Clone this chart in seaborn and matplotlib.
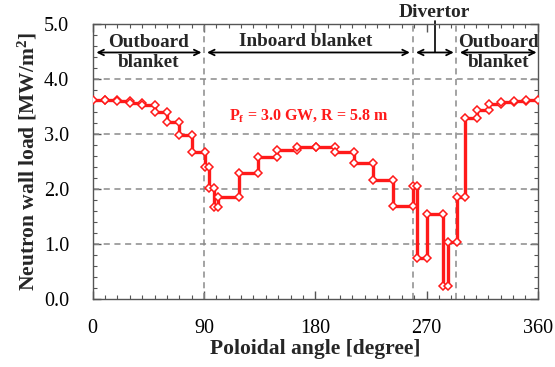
import matplotlib
matplotlib.use("Agg")
import matplotlib.pyplot as plt
import seaborn as sns
import pandas as pd
from matplotlib.ticker import MultipleLocator

# ---- data ----
edges = [0, 10, 20, 30, 40, 50, 60, 70, 80, 90.5, 94, 98.3, 101.7, 118.3, 134,
         149, 165, 180.5, 196, 211.5, 227, 243, 259.2, 262.5, 270.7, 283, 287,
         294.5, 301, 311, 320.6, 330.6, 340.6, 350.8, 360]
loads = [3.62, 3.62, 3.60, 3.57, 3.52, 3.39, 3.21, 2.99, 2.67, 2.40, 2.02, 1.68,
         1.85, 2.29, 2.58, 2.71, 2.77, 2.77, 2.68, 2.48, 2.16, 1.70, 2.06, 0.75,
         1.55, 0.24, 1.03, 1.86, 3.29, 3.44, 3.55, 3.58, 3.60, 3.61]
region_bounds = [90, 259, 294]
x_ticks = [0, 90, 180, 270, 360]
y_ticks = [0.0, 1.0, 2.0, 3.0, 4.0, 5.0]

xs, ys = [], []
for i, v in enumerate(loads):
    xs += [edges[i], edges[i + 1]]
    ys += [v, v]
df = pd.DataFrame({"angle": xs, "load": ys})

sns.set_theme(style="ticks")
plt.rcParams["font.family"] = ["Liberation Serif", "DejaVu Serif"]
plt.rcParams["mathtext.fontset"] = "custom"
plt.rcParams["mathtext.rm"] = "Liberation Serif"
plt.rcParams["mathtext.bf"] = "Liberation Serif:bold"
plt.rcParams["mathtext.it"] = "Liberation Serif:italic"

fig = plt.figure(figsize=(5.55, 3.67), dpi=100)
ax = fig.add_axes([0.167, 0.185, 0.802, 0.75])

# grid
for yv in y_ticks[1:-1]:
    ax.axhline(yv, color="#8a8a8a", lw=1.1, ls=(0, (4, 3)), zorder=1)
for xv in region_bounds:
    ax.axvline(xv, color="#8a8a8a", lw=1.1, ls=(0, (4, 3)), zorder=1)

sns.lineplot(data=df, x="angle", y="load", sort=False, estimator=None,
             color="#ff1a1a", lw=2.4, marker="D", markersize=4.2,
             markerfacecolor="white", markeredgecolor="#ff1a1a",
             markeredgewidth=1.1, ax=ax, zorder=3)

ax.set_xlim(0, 360)
ax.set_ylim(0, 5)
ax.set_xticks(x_ticks)
ax.set_yticks(y_ticks)
ax.set_yticklabels([f"{v:.1f}" for v in y_ticks])
ax.xaxis.set_minor_locator(MultipleLocator(10))
ax.yaxis.set_minor_locator(MultipleLocator(0.2))
ax.tick_params(which="both", direction="in", top=True, right=True,
               colors="#555555", labelcolor="black", labelsize=14.5)
ax.tick_params(which="major", length=6, width=1)
ax.tick_params(which="minor", length=3, width=0.8)
ax.tick_params(axis="x", pad=14)
ax.tick_params(axis="y", pad=17)
for s in ax.spines.values():
    s.set_color("#555555")
    s.set_linewidth(1.0)

ax.set_xlabel("Poloidal angle [degree]", fontsize=15.5, fontweight="bold",
              labelpad=1)
ax.set_ylabel(r"Neutron wall load [MW/m$^{\mathbf{2}}$]", fontsize=15.5,
              fontweight="bold", labelpad=3)

# region annotations
arr_y = 4.48
ap = dict(arrowstyle="<->", color="black", lw=1.3, shrinkA=0, shrinkB=0,
          mutation_scale=10)
for a, b in [(3, 88), (92.5, 256.5), (261.5, 292), (297, 359)]:
    ax.annotate("", xy=(a, arr_y), xytext=(b, arr_y), arrowprops=ap)
ax.text(45, arr_y, "Outboard\nblanket", ha="center", va="center",
        fontsize=13.8, fontweight="bold", linespacing=1.2)
ax.text(172, 4.68, "Inboard blanket", ha="center", va="center",
        fontsize=13.8, fontweight="bold")
ax.text(328, arr_y, "Outboard\nblanket", ha="center", va="center",
        fontsize=13.8, fontweight="bold", linespacing=1.2,
        bbox=dict(facecolor="white", edgecolor="none", pad=0.5), zorder=2)
ax.plot([277, 277], [arr_y, 5.05], color="black", lw=1.2, clip_on=False)
ax.text(276, 5.2, "Divertor", ha="center", va="center", fontsize=14,
        fontweight="bold")
ax.text(175, 3.34, r"P$_{\mathbf{f}}$ = 3.0 GW, R = 5.8 m", ha="center",
        va="center", fontsize=11.5, fontweight="bold", color="#ff1a1a")

fig.savefig("out.png", dpi=100)
